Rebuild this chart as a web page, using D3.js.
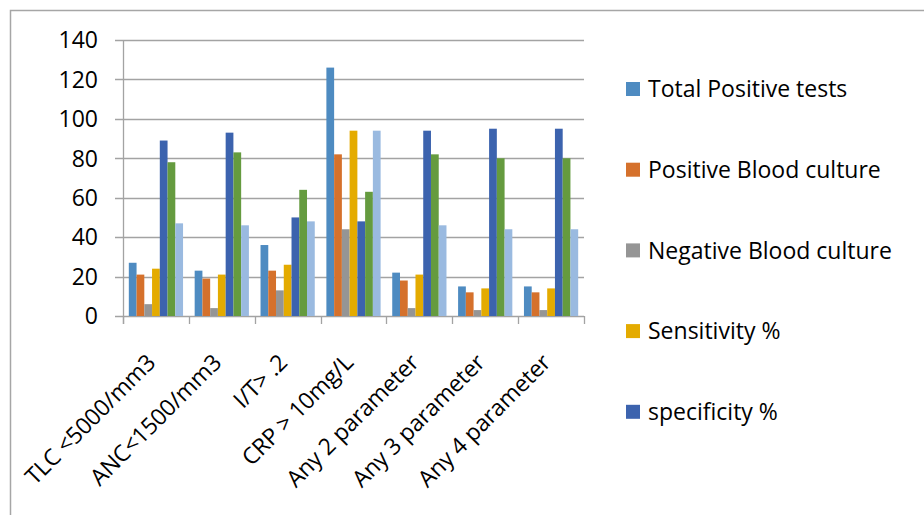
<!DOCTYPE html>
<html>
<head>
<meta charset="utf-8">
<script src="https://cdn.jsdelivr.net/npm/d3@7"></script>
<style>
  html, body { margin: 0; padding: 0; background: #ffffff; }
  svg { display: block; }
  text { font-family: "Open Sans", "Noto Sans", sans-serif; fill: #000; }
</style>
</head>
<body>
<svg id="chart" width="924" height="515"></svg>
<script>
// Diagnostic markers for neonatal sepsis screening
const categories = ["TLC <5000/mm3", "ANC<1500/mm3", "I/T> .2", "CRP > 10mg/L",
                    "Any 2 parameter", "Any 3 parameter", "Any 4 parameter"];

const seriesNames = ["Total Positive tests", "Positive Blood culture", "Negative Blood culture",
                     "Sensitivity %", "specificity %", "PPV %", "NPV %"];

const totalPositive   = [27, 23, 36, 126, 22, 15, 15];
const positiveCulture = [21, 19, 23, 82, 18, 12, 12];
const negativeCulture = [6, 4, 13, 44, 4, 3, 3];
const sensitivity     = [24, 21, 26, 94, 21, 14, 14];
const specificity     = [89, 93, 50, 48, 94, 95, 95];
const ppv             = [78, 83, 64, 63, 82, 80, 80];
const npv             = [47, 46, 48, 94, 46, 44, 44];

const yTicks = [0, 20, 40, 60, 80, 100, 120, 140];

const seriesValues = [totalPositive, positiveCulture, negativeCulture, sensitivity,
                      specificity, ppv, npv];
const colors = ["#4e8bc1", "#d5712c", "#959595", "#e4ab00", "#3c63ae", "#659b3f", "#9abae0"];
// Only the first five entries fit in the legend box
const legendCount = 5;

const svg = d3.select("#chart");

// Outer chart frame
svg.append("path")
  .attr("d", "M10.5,515 V10.5 H924")
  .attr("fill", "none")
  .attr("stroke", "#a6a6a6")
  .attr("stroke-width", 1.5);

const plot = { left: 123, right: 584, top: 40, bottom: 316 };

const x = d3.scaleBand().domain(categories).range([plot.left, plot.right]).padding(0);
const y = d3.scaleLinear().domain([0, 140]).range([plot.bottom, plot.top]);

// Bars: 7 series per group with a 150% gap between groups
const nSeries = seriesNames.length;
const barW = x.bandwidth() / (nSeries + 1.5);
const xs = d3.scaleBand().domain(d3.range(nSeries))
  .range([barW * 0.75, barW * 0.75 + barW * nSeries]).padding(0);

// Horizontal gridlines (extend left as major tick marks)
svg.append("g")
  .selectAll("line")
  .data(yTicks)
  .join("line")
  .attr("x1", plot.left - 8)
  .attr("x2", plot.right)
  .attr("y1", d => Math.round(y(d)) + 0.5)
  .attr("y2", d => Math.round(y(d)) + 0.5)
  .attr("stroke", "#a3a3a3")
  .attr("stroke-width", 1.3);

// Y tick labels
svg.append("g")
  .selectAll("text")
  .data(yTicks)
  .join("text")
  .attr("x", 98)
  .attr("y", d => y(d))
  .attr("dy", "0.36em")
  .attr("text-anchor", "end")
  .attr("font-size", 23)
  .text(d => d);

// Series bars
const groups = svg.append("g")
  .selectAll("g")
  .data(seriesValues)
  .join("g")
  .attr("fill", (d, i) => colors[i]);

groups.each(function (vals, si) {
  d3.select(this).selectAll("rect")
    .data(vals)
    .join("rect")
    .attr("x", (v, ci) => x(categories[ci]) + xs(si))
    .attr("y", v => y(v))
    .attr("width", xs.bandwidth())
    .attr("height", v => y(0) - y(v));
});

// Y axis line
svg.append("line")
  .attr("x1", plot.left + 0.5).attr("x2", plot.left + 0.5)
  .attr("y1", plot.top).attr("y2", plot.bottom + 8)
  .attr("stroke", "#a3a3a3").attr("stroke-width", 1.3);

// X axis category tick marks
const boundaries = categories.map(c => x(c)).concat([plot.right]);
svg.append("g")
  .selectAll("line")
  .data(boundaries)
  .join("line")
  .attr("x1", d => Math.round(d) + 0.5)
  .attr("x2", d => Math.round(d) + 0.5)
  .attr("y1", plot.bottom)
  .attr("y2", plot.bottom + 8)
  .attr("stroke", "#a3a3a3")
  .attr("stroke-width", 1.3);

// Rotated category labels
svg.append("g")
  .selectAll("text")
  .data(categories)
  .join("text")
  .attr("transform", d => `translate(${x(d) + x.bandwidth() / 2 + 1},${plot.bottom + 48}) rotate(-45)`)
  .attr("text-anchor", "end")
  .attr("font-size", 23)
  .attr("letter-spacing", -0.2)
  .text(d => d);

// Legend
const legend = svg.append("g")
  .selectAll("g")
  .data(seriesNames.slice(0, legendCount))
  .join("g")
  .attr("transform", (d, i) => `translate(626,${89 + i * 80.7})`);

legend.append("rect")
  .attr("x", 0).attr("y", -7)
  .attr("width", 14).attr("height", 14)
  .attr("fill", (d, i) => colors[i]);

legend.append("text")
  .attr("x", 22)
  .attr("y", 0)
  .attr("dy", "0.36em")
  .attr("font-size", 23)
  .text(d => d);
</script>
</body>
</html>
